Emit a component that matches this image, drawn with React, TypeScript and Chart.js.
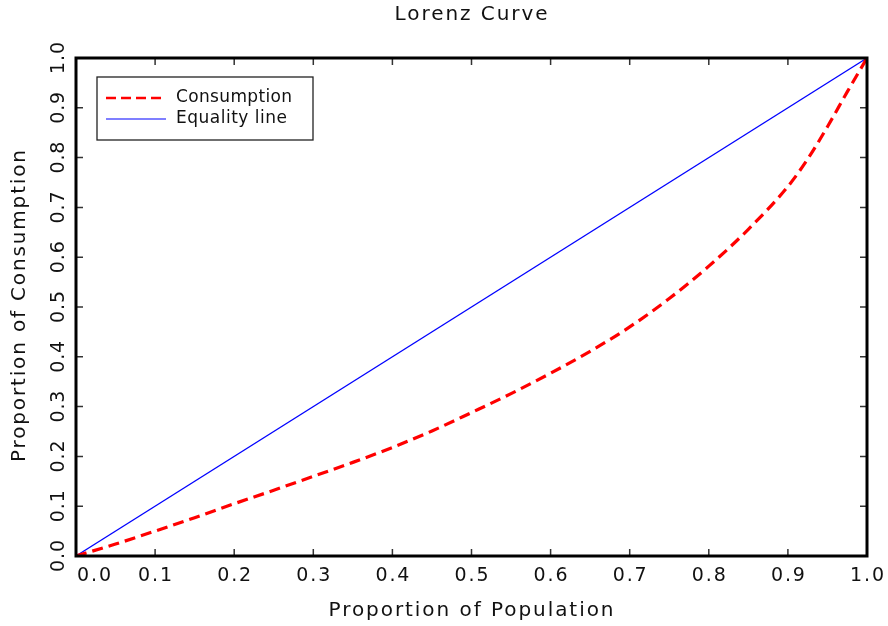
import React, { useEffect, useRef } from "react";
import { Chart, registerables } from "chart.js";

Chart.register(...registerables);

const chartTitle = "Lorenz Curve";
const xTitle = "Proportion of Population";
const yTitle = "Proportion of Consumption";
const seriesNames = ["Consumption", "Equality line"];

const popShare = [0, 0.05, 0.1, 0.15, 0.2, 0.25, 0.3, 0.35, 0.4, 0.45, 0.5, 0.55, 0.6, 0.65, 0.7, 0.75, 0.8, 0.85, 0.9, 0.925, 0.95, 0.975, 1.0];
const consShare = [0, 0.024, 0.05, 0.077, 0.105, 0.132, 0.16, 0.188, 0.218, 0.251, 0.288, 0.326, 0.367, 0.411, 0.46, 0.517, 0.582, 0.656, 0.742, 0.797, 0.862, 0.932, 1.0];
const equalityX = [0, 1];
const equalityY = [0, 1];

const tickValues = [0, 0.1, 0.2, 0.3, 0.4, 0.5, 0.6, 0.7, 0.8, 0.9, 1.0];
const tickLabels = ["0.0", "0.1", "0.2", "0.3", "0.4", "0.5", "0.6", "0.7", "0.8", "0.9", "1.0"];

const FONT = '"DejaVu Sans", sans-serif';

function fitText(
  ctx: CanvasRenderingContext2D,
  text: string,
  cx: number,
  cy: number,
  target: number,
  size: number,
  rot: number,
  align: CanvasTextAlign = "center"
) {
  ctx.save();
  ctx.font = `${size}px ${FONT}`;
  (ctx as any).letterSpacing = "0px";
  const w = ctx.measureText(text).width;
  const sp = (target - w) / Math.max(1, text.length - 1);
  (ctx as any).letterSpacing = `${sp}px`;
  ctx.translate(cx, cy);
  ctx.rotate(rot);
  ctx.textAlign = "left";
  ctx.textBaseline = "middle";
  const x0 = align === "center" ? -target / 2 : 0;
  ctx.fillStyle = "#111";
  ctx.fillText(text, x0, 0);
  ctx.restore();
}

const framePlugin = {
  id: "idlFrame",
  afterDraw(chart: any) {
    const ctx: CanvasRenderingContext2D = chart.ctx;
    const { left, right, top, bottom } = chart.chartArea;
    const xs = chart.scales.x;
    const ys = chart.scales.y;
    ctx.save();
    // ticks
    ctx.strokeStyle = "#333";
    ctx.lineWidth = 1.5;
    const tl = 7;
    tickValues.forEach((v) => {
      const px = xs.getPixelForValue(v);
      const py = ys.getPixelForValue(v);
      ctx.beginPath();
      ctx.moveTo(px, bottom);
      ctx.lineTo(px, bottom - tl);
      ctx.moveTo(px, top);
      ctx.lineTo(px, top + tl);
      ctx.moveTo(left, py);
      ctx.lineTo(left + tl, py);
      ctx.moveTo(right, py);
      ctx.lineTo(right - tl, py);
      ctx.stroke();
    });
    // frame
    ctx.strokeStyle = "#000";
    ctx.lineWidth = 3;
    ctx.strokeRect(left, top, right - left, bottom - top);

    // tick labels
    tickValues.forEach((v, i) => {
      let px = xs.getPixelForValue(v);
      if (i === 0) px += 18;
      fitText(ctx, tickLabels[i], px, bottom + 20, 34, 19, 0);
      const py = ys.getPixelForValue(v);
      fitText(ctx, tickLabels[i], left - 17, py, 32, 19, -Math.PI / 2);
    });

    // titles
    fitText(ctx, chartTitle, (left + right) / 2 - 0.5, 15, 153, 20, 0);
    fitText(ctx, xTitle, (left + right) / 2 - 0.5, 611, 285, 20, 0);
    fitText(ctx, yTitle, 20, 306, 312, 20, -Math.PI / 2);

    // legend
    const bx = 97, by = 77, bw = 216, bh = 63;
    ctx.fillStyle = "#fff";
    ctx.fillRect(bx, by, bw, bh);
    ctx.strokeStyle = "#222";
    ctx.lineWidth = 1.3;
    ctx.strokeRect(bx, by, bw, bh);
    ctx.strokeStyle = "#ff0000";
    ctx.lineWidth = 2.5;
    ctx.setLineDash([10, 5]);
    ctx.beginPath();
    ctx.moveTo(106, 98);
    ctx.lineTo(166, 98);
    ctx.stroke();
    ctx.setLineDash([]);
    ctx.strokeStyle = "#0000ff";
    ctx.lineWidth = 1.2;
    ctx.beginPath();
    ctx.moveTo(106, 119);
    ctx.lineTo(166, 119);
    ctx.stroke();
    fitText(ctx, seriesNames[0], 176, 98, 116, 17, 0, "left");
    fitText(ctx, seriesNames[1], 176, 119, 111, 17, 0, "left");
    ctx.restore();
  },
};

export default function App() {
  const ref = useRef<HTMLCanvasElement | null>(null);
  useEffect(() => {
    if (!ref.current) return;
    const chart = new Chart(ref.current, {
      type: "line",
      data: {
        datasets: [
          {
            label: seriesNames[0],
            data: popShare.map((x, i) => ({ x, y: consShare[i] })),
            borderColor: "#ff0000",
            borderWidth: 3.2,
            borderDash: [11, 6],
            pointRadius: 0,
            cubicInterpolationMode: "monotone",
            fill: false,
          },
          {
            label: seriesNames[1],
            data: equalityX.map((x, i) => ({ x, y: equalityY[i] })),
            borderColor: "#0000ff",
            borderWidth: 1.2,
            pointRadius: 0,
            fill: false,
          },
        ],
      },
      options: {
        responsive: false,
        animation: false,
        layout: { padding: { left: 76, right: 21, top: 58, bottom: 70 } },
        plugins: { legend: { display: false }, title: { display: false }, tooltip: { enabled: false } },
        scales: {
          x: { type: "linear", min: 0, max: 1, display: false },
          y: { type: "linear", min: 0, max: 1, display: false },
        },
      },
      plugins: [framePlugin],
    });
    return () => chart.destroy();
  }, []);
  return (
    <div style={{ position: "absolute", left: 0, top: 0, width: 888, height: 626, background: "#fff" }}>
      <canvas ref={ref} width={888} height={626} style={{ display: "block" }} />
    </div>
  );
}
